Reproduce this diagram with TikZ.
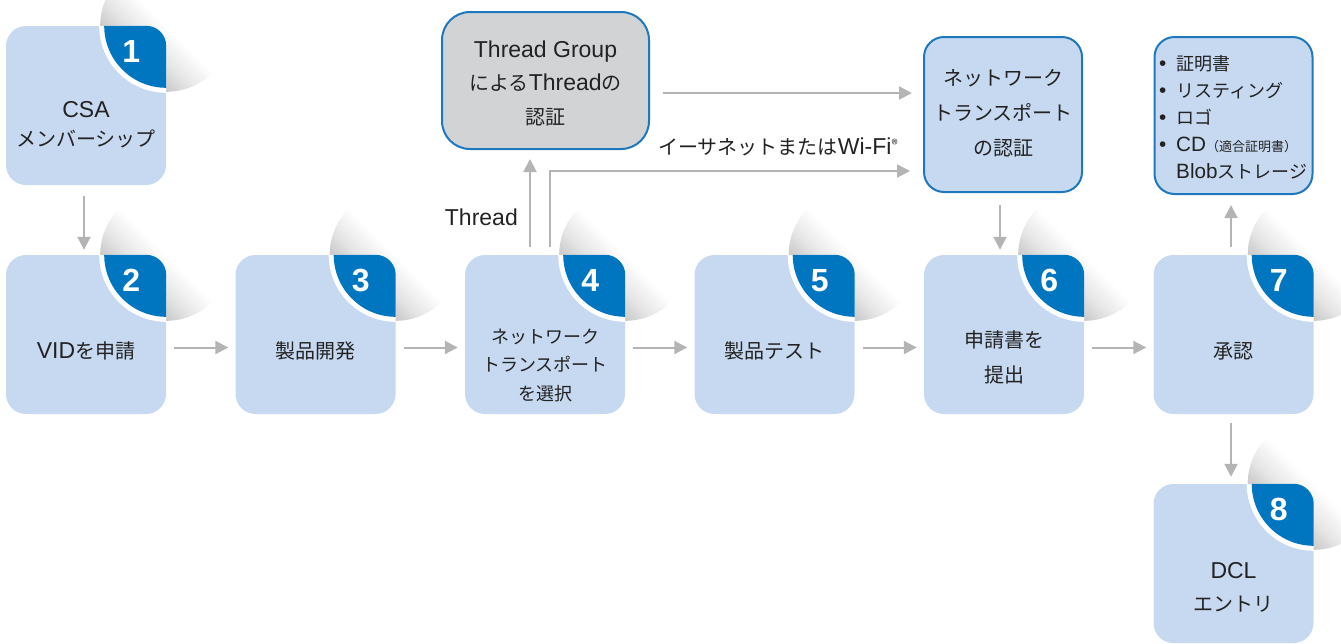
\documentclass[tikz,border=0pt]{standalone}
\usepackage{fontspec}
\setmainfont{Noto Sans CJK JP}
\newfontfamily\numfont{Liberation Sans}
\newfontfamily\lat{Liberation Sans}[Scale=1.15]
\usetikzlibrary{arrows.meta,backgrounds,calc}
\definecolor{boxblue}{HTML}{C6D9F0}
\definecolor{badge}{HTML}{0076C0}
\definecolor{edge}{HTML}{1E78BE}
\definecolor{tggray}{HTML}{D2D3D5}
\definecolor{arrgray}{HTML}{B4B4B4}
\definecolor{txt}{HTML}{222222}
\pgfdeclarehorizontalshading{curlh}{100bp}{color(0bp)=(black!30); color(25bp)=(black!30); color(32bp)=(black!22); color(40bp)=(black!10); color(50bp)=(white); color(100bp)=(white)}
\tikzset{
 stepbox/.style={fill=boxblue, rounded corners=20pt, minimum width=160pt, minimum height=159pt, inner sep=0pt, draw=none},
 outbox/.style={fill=boxblue, draw=edge, line width=2pt, rounded corners=20pt, minimum width=158pt, minimum height=155pt, inner sep=0pt},
 lbl/.style={text=txt, align=center, font=\fontsize{20}{29}\selectfont, inner sep=0pt},
 num/.style={text=white, font=\numfont\bfseries\fontsize{32}{32}\selectfont, inner sep=0pt},
 arr/.style={draw=arrgray, line width=2pt, -{Triangle[length=13pt,width=13pt]}},
}
\newcommand\stepbadge[2]{%
 \begin{pgfonlayer}{background}\begin{scope}[y=1pt]\shade[shading=curlh, shading angle=45] (#1.north east) circle[radius=66pt];\end{scope}\end{pgfonlayer}
 \begin{scope}\clip[rounded corners=20pt] (#1.south west) rectangle (#1.north east);
 \fill[white] (#1.north east) circle[radius=67pt];
 \fill[badge] (#1.north east) circle[radius=62pt];
 \end{scope}
 \node[num] (n#1) at ($(#1.north east)+(-35,26)$) {#2};}
\begin{document}
\begin{tikzpicture}[x=1pt,y=-1pt]
\useasboundingbox (0,0) rectangle (1341,643);
% boxes
\node[stepbox] (b1) at (86,105.5) {};
\node[stepbox] (b2) at (86,334.5) {};
\node[stepbox] (b3) at (315.5,334.5) {};
\node[stepbox] (b4) at (545,334.5) {};
\node[stepbox] (b5) at (774.5,334.5) {};
\node[stepbox] (b6) at (1004,334.5) {};
\node[stepbox] (b7) at (1233.5,334.5) {};
\node[stepbox] (b8) at (1233.5,563.5) {};
\node[outbox, fill=tggray, minimum width=207pt, minimum height=137pt, rounded corners=28pt] (tg) at (545.5,80.5) {};
\node[outbox] (au) at (1003,114.5) {};
\node[outbox, minimum height=157pt] (ls) at (1233.5,115.5) {};
% badges
\stepbadge{b1}{1}
\stepbadge{b2}{2}
\stepbadge{b3}{3}
\stepbadge{b4}{4}
\stepbadge{b5}{5}
\stepbadge{b6}{6}
\stepbadge{b7}{7}
\stepbadge{b8}{8}
% texts
\node[lbl] (t1) at (86,124.5) {{\lat CSA}\\メンバーシップ};
\node[lbl] (t2) at (86,351) {{\lat VID}を申請};
\node[lbl] (t3) at (315.5,351) {製品開発};
\node[lbl, font=\fontsize{18}{28.5}\selectfont] (t4) at (545,365) {ネットワーク\\トランスポート\\を選択};
\node[lbl] (t5) at (774.5,351) {製品テスト};
\node[lbl, font=\fontsize{20}{35}\selectfont] (t6) at (1004,357.5) {申請書を\\提出};
\node[lbl] (t7) at (1233.5,351) {承認};
\node[lbl, font=\fontsize{20}{33}\selectfont] (t8) at (1233.5,587.5) {{\lat DCL}\\エントリ};
\node[lbl, font=\fontsize{20}{33.5}\selectfont] (ttg) at (545.5,83) {{\lat Thread Group}\\による{\lat Thread}の\\認証};
\node[lbl, font=\fontsize{20}{35}\selectfont] (tau) at (1003,113) {ネットワーク\\トランスポート\\の認証};
\node[lbl, align=left, anchor=west, font=\fontsize{18}{27}\selectfont] (tls) at (1159,117) {%
\makebox[17pt][l]{\lat •}証明書\\
\makebox[17pt][l]{\lat •}リスティング\\
\makebox[17pt][l]{\lat •}ロゴ\\
\makebox[17pt][l]{\lat •}{\lat CD}{\fontsize{13}{13}\selectfont（適合証明書）}\\
\hspace*{17pt}{\lat Blob}ストレージ};
\node[lbl, anchor=east] (lth) at (518,217) {\lat Thread};
\node[lbl] (leth) at (778,147) {イーサネットまたは{\lat Wi-Fi}{\fontsize{13}{13}\selectfont\raisebox{5pt}{®}}};
% arrows
\draw[arr, shorten <=11pt, shorten >=5pt] ([xshift=-2pt]b1.south) -- ([xshift=-2pt]b2.north);
\foreach \a/\b in {b2/b3,b3/b4,b4/b5,b5/b6,b6/b7}
  \draw[arr, shorten <=8pt, shorten >=7pt] ([yshift=-13pt]\a.east) -- ([yshift=-13pt]\b.west);
\draw[arr, shorten <=8pt, shorten >=9pt] ([xshift=-15pt]b4.north) -- ([xshift=-15.5pt]tg.south);
\draw[arr, shorten <=8pt, shorten >=13pt] ([xshift=4.5pt]b4.north) |- ([yshift=-56.5pt]au.west);
\draw[arr, shorten <=13pt, shorten >=11pt] ([yshift=-12.5pt]tg.east) -- ([yshift=-12.5pt]tg.east -| au.west);
\draw[arr, shorten <=12pt, shorten >=5pt] ([xshift=-3pt]au.south) -- ([xshift=-4pt]b6.north);
\draw[arr, shorten <=8pt, shorten >=10pt] ([xshift=-2.5pt]b7.north) -- ([xshift=-2.5pt]ls.south);
\draw[arr, shorten <=9pt, shorten >=7pt] ([xshift=-2.5pt]b7.south) -- ([xshift=-2.5pt]b8.north);
\end{tikzpicture}
\end{document}
